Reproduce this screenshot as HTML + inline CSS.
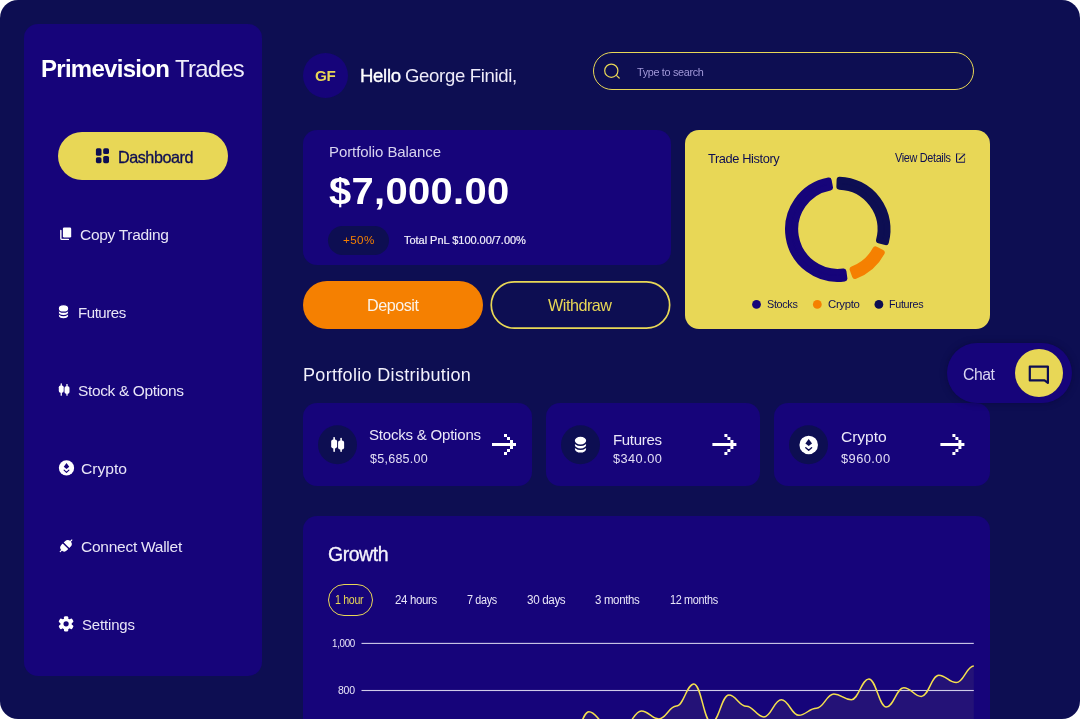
<!DOCTYPE html>
<html lang="en">
<head>
<meta charset="utf-8">
<title>Primevision Trades</title>
<style>
*{box-sizing:border-box;margin:0;padding:0}
html,body{width:1080px;height:719px;overflow:hidden;background:#fff;font-family:"Liberation Sans",sans-serif}
#app{position:absolute;left:0;top:0;width:1080px;height:719px;background:#0d0e52;border-radius:18px;overflow:hidden;will-change:transform}
.abs{position:absolute}
.t{position:absolute;white-space:nowrap;line-height:1;color:#fff;transform-origin:0 0}
.card{position:absolute;background:#16047a;border-radius:14px}
svg{position:absolute;overflow:visible}
</style>
</head>
<body>
<div id="app">

<!-- SIDEBAR -->
<div class="card" id="sidebar" style="left:24px;top:24px;width:238px;height:652px;border-radius:14px"></div>
<span class="t" id="t-prime" style="left:41.15px;top:56.75px;font-size:24px;font-weight:700;letter-spacing:-0.72px;transform:scaleX(0.9994)">Primevision</span>
<span class="t" id="t-trades" style="left:174.93px;top:56.75px;font-size:24px;letter-spacing:-0.72px;transform:scaleX(0.9937);color:#efedfa">Trades</span>

<div class="abs" id="dashbtn" style="left:58px;top:132px;width:170px;height:48px;border-radius:24px;background:#e8d756"></div>
<span class="t" id="t-dash" style="left:118.48px;top:148.75px;font-size:16.5px;color:#0d0e52;letter-spacing:-0.49px;transform:scaleX(0.9819);-webkit-text-stroke:0.3px #0d0e52">Dashboard</span>

<span class="t" id="t-copy" style="left:80.49px;top:226.85px;font-size:15.5px;letter-spacing:-0.32px;transform:scaleX(1.0027);color:#e8e5f7">Copy Trading</span>
<span class="t" id="t-fut" style="left:78.17px;top:304.6px;font-size:15.5px;letter-spacing:-0.46px;transform:scaleX(0.9689);color:#e8e5f7">Futures</span>
<span class="t" id="t-stock" style="left:77.75px;top:382.6px;font-size:15.5px;letter-spacing:-0.35px;transform:scaleX(0.9979);color:#e8e5f7">Stock &amp; Options</span>
<span class="t" id="t-crypto" style="left:81.21px;top:460.85px;font-size:15.5px;letter-spacing:-0.03px;transform:scaleX(1.0112);color:#e8e5f7">Crypto</span>
<span class="t" id="t-wallet" style="left:81.04px;top:538.6px;font-size:15.5px;letter-spacing:-0.27px;transform:scaleX(1.0018);color:#e8e5f7">Connect Wallet</span>
<span class="t" id="t-set" style="left:82.01px;top:616.75px;font-size:15px;letter-spacing:-0.14px;transform:scaleX(0.9956);color:#e8e5f7">Settings</span>

<!-- HEADER -->
<div class="abs" id="avatar" style="left:303px;top:53px;width:45px;height:45px;border-radius:50%;background:#16047a"></div>
<span class="t" id="t-gf" style="left:314.92px;top:67.65px;font-size:15.5px;font-weight:700;color:#e8d756;letter-spacing:-0.46px;transform:scaleX(0.981)">GF</span>
<span class="t" id="t-hello" style="left:359.91px;top:67.05px;font-size:18.5px;letter-spacing:-0.31px;transform:scaleX(1.0039);color:#fff;-webkit-text-stroke:0.35px #fff">Hello</span>
<span class="t" id="t-name" style="left:404.97px;top:67.05px;font-size:18.5px;letter-spacing:-0.32px;transform:scaleX(1.0016);color:#eeebf9">George Finidi,</span>

<div class="abs" id="search" style="left:593px;top:52px;width:381px;height:38px;border-radius:19px;border:1px solid #e8d756"></div>
<span class="t" id="t-search" style="left:636.8px;top:66.5px;font-size:11.5px;color:#a198d9;letter-spacing:-0.34px;transform:scaleX(0.9412)">Type to search</span>

<!-- PORTFOLIO BALANCE -->
<div class="card" id="pbal" style="left:303px;top:130px;width:368px;height:135px"></div>
<span class="t" id="t-pb" style="left:328.67px;top:143.6px;font-size:15px;color:#d8d4ef;letter-spacing:-0.07px;transform:scaleX(0.9986)">Portfolio Balance</span>
<span class="t" id="t-amt" style="left:328.78px;top:173.3px;font-size:37.5px;font-weight:700;letter-spacing:0.3px;transform:scaleX(1.0654)">$7,000.00</span>
<div class="abs" id="pill50" style="left:328px;top:226px;width:61px;height:29px;border-radius:15px;background:#0d0e52"></div>
<span class="t" id="t-50" style="left:343.3px;top:234.95px;font-size:11.5px;color:#f58001;letter-spacing:0.4px;transform:scaleX(1.0104)">+50%</span>
<span class="t" id="t-pnl" style="left:404.14px;top:235.45px;font-size:11px;letter-spacing:-0.04px;transform:scaleX(1.0018);color:#f1effb;-webkit-text-stroke:0.2px #f1effb">Total PnL $100.00/7.00%</span>

<div class="abs" id="dep" style="left:303px;top:281px;width:180px;height:48px;border-radius:24px;background:#f58001"></div>
<span class="t" id="t-dep" style="left:366.96px;top:297.1px;font-size:16.5px;letter-spacing:-0.49px;transform:scaleX(0.9806);color:#fbf3ea">Deposit</span>
<span class="t" id="t-wd" style="left:548.35px;top:297.1px;font-size:16.5px;color:#e8d756;letter-spacing:-0.49px;transform:scaleX(0.9795)">Withdraw</span>

<!-- TRADE HISTORY -->
<div class="abs" id="th" style="left:685px;top:130px;width:305px;height:199px;border-radius:14px;background:#e8d756"></div>
<span class="t" id="t-th" style="left:708.34px;top:152.3px;font-size:13px;color:#0d0e52;letter-spacing:-0.39px;transform:scaleX(0.9846)">Trade History</span>
<span class="t" id="t-vd" style="left:895.01px;top:152.35px;font-size:12px;color:#0d0e52;letter-spacing:-0.36px;transform:scaleX(0.9048)">View Details</span>
<span class="t" id="t-l1" style="left:766.66px;top:299.05px;font-size:11.5px;color:#0d0e52;letter-spacing:-0.34px;transform:scaleX(0.9392)">Stocks</span>
<span class="t" id="t-l2" style="left:827.59px;top:299.05px;font-size:11.5px;color:#0d0e52;letter-spacing:-0.34px;transform:scaleX(0.9908)">Crypto</span>
<span class="t" id="t-l3" style="left:889.19px;top:299.05px;font-size:11.5px;color:#0d0e52;letter-spacing:-0.34px;transform:scaleX(0.936)">Futures</span>

<!-- PORTFOLIO DISTRIBUTION -->
<span class="t" id="t-pd" style="left:302.84px;top:366.2px;font-size:18px;letter-spacing:0.33px;transform:scaleX(0.999);color:#f3f1fc">Portfolio Distribution</span>
<div class="card" id="c1" style="left:303px;top:403px;width:229px;height:83px"></div>
<div class="card" id="c2" style="left:546px;top:403px;width:214px;height:83px"></div>
<div class="card" id="c3" style="left:774px;top:403px;width:216px;height:83px"></div>
<span class="t" id="t-c1a" style="left:369.07px;top:427.2px;font-size:15px;letter-spacing:-0.21px;transform:scaleX(1.0013);color:#ebe8f8">Stocks &amp; Options</span>
<span class="t" id="t-c1b" style="left:369.67px;top:452.8px;font-size:12.5px;letter-spacing:0.25px;transform:scaleX(1.0019);color:#e2def4">$5,685.00</span>
<span class="t" id="t-c2a" style="left:612.51px;top:431.8px;font-size:15px;letter-spacing:-0.34px;transform:scaleX(1.0023);color:#ebe8f8">Futures</span>
<span class="t" id="t-c2b" style="left:613.06px;top:452.8px;font-size:12.5px;letter-spacing:0.44px;transform:scaleX(1.0193);color:#e2def4">$340.00</span>
<span class="t" id="t-c3a" style="left:841.29px;top:428.7px;font-size:15.5px;letter-spacing:-0.09px;transform:scaleX(1.0093);color:#ebe8f8">Crypto</span>
<span class="t" id="t-c3b" style="left:841.11px;top:452.8px;font-size:12.5px;letter-spacing:0.44px;transform:scaleX(1.0262);color:#e2def4">$960.00</span>

<!-- CHAT -->
<div class="abs" id="chat" style="left:947px;top:343.2px;width:125px;height:60.2px;border-radius:31px;background:#16047a;box-shadow:0 0 6px rgba(8,8,50,.55)"></div>
<span class="t" id="t-chat" style="left:963.12px;top:367.3px;font-size:16px;color:#dad6f1;letter-spacing:-0.48px;transform:scaleX(0.9843)">Chat</span>
<div class="abs" id="chatc" style="left:1014.9px;top:349.1px;width:48.3px;height:48.3px;border-radius:50%;background:#e8d756"></div>

<!-- GROWTH -->
<div class="card" id="growth" style="left:303px;top:516px;width:687px;height:230px"></div>
<span class="t" id="t-gr" style="left:328.12px;top:544.75px;font-size:19.5px;letter-spacing:-0.48px;transform:scaleX(1.0004);color:#f6f4fd;-webkit-text-stroke:0.3px #f6f4fd">Growth</span>
<div class="abs" id="tab1" style="left:328px;top:584px;width:45px;height:31.6px;border-radius:16px;border:1px solid #e8d756"></div>
<span class="t" id="t-g1" style="left:334.95px;top:594.2px;font-size:12px;color:#e8d756;letter-spacing:-0.36px;transform:scaleX(0.8841)">1 hour</span>
<span class="t" id="t-g2" style="left:395.04px;top:594.2px;font-size:12px;letter-spacing:-0.36px;transform:scaleX(0.955);color:#e9e6f8">24 hours</span>
<span class="t" id="t-g3" style="left:466.8px;top:594.2px;font-size:12px;letter-spacing:-0.36px;transform:scaleX(0.8999);color:#e9e6f8">7 days</span>
<span class="t" id="t-g4" style="left:526.96px;top:594.2px;font-size:12px;letter-spacing:-0.36px;transform:scaleX(0.9705);color:#e9e6f8">30 days</span>
<span class="t" id="t-g5" style="left:595.48px;top:594.2px;font-size:12px;letter-spacing:-0.36px;transform:scaleX(0.9575);color:#e9e6f8">3 months</span>
<span class="t" id="t-g6" style="left:669.53px;top:594.2px;font-size:12px;letter-spacing:-0.36px;transform:scaleX(0.9051);color:#e9e6f8">12 months</span>
<span class="t" id="t-y1" style="left:332.03px;top:639.2px;font-size:10px;letter-spacing:-0.3px;transform:scaleX(0.9768);color:#e9e6f8">1,000</span>
<span class="t" id="t-y2" style="left:338.12px;top:685.35px;font-size:10.5px;letter-spacing:-0.25px;transform:scaleX(1.0004);color:#e9e6f8">800</span>

<!--GFX-->
<svg id="gfx" style="left:0;top:0" width="1080" height="719" viewBox="0 0 1080 719">
<path d="M536.44 740.30C543.79 740.30 546.59 740.30 553.94 740.30C561.28 740.30 564.08 740.30 571.43 740.30C578.78 740.30 581.58 711.70 588.93 711.70C596.27 711.70 599.07 723.80 606.42 723.80C613.77 723.80 616.57 726.30 623.91 726.30C631.26 726.30 634.06 710.90 641.41 710.90C648.76 710.90 651.56 718.90 658.90 718.90C666.25 718.90 669.05 706.10 676.40 706.10C683.74 706.10 686.54 684.00 693.89 684.00C701.24 684.00 704.04 722.80 711.39 722.80C718.73 722.80 721.53 695.10 728.88 695.10C736.23 695.10 739.03 706.20 746.37 706.20C753.72 706.20 756.52 716.90 763.87 716.90C771.22 716.90 774.02 699.70 781.36 699.70C788.71 699.70 791.51 715.30 798.86 715.30C806.20 715.30 809.00 708.20 816.35 708.20C823.70 708.20 826.50 694.00 833.85 694.00C841.19 694.00 843.99 699.70 851.34 699.70C858.69 699.70 861.49 678.90 868.83 678.90C876.18 678.90 878.98 707.10 886.33 707.10C893.68 707.10 896.48 687.70 903.82 687.70C911.17 687.70 913.97 696.40 921.32 696.40C928.66 696.40 931.46 675.30 938.81 675.30C946.16 675.30 948.96 682.60 956.31 682.60C963.65 682.60 966.45 666.00 973.80 666.00L973.80 760L536.44 760Z" fill="#e8d756" fill-opacity="0.07"/>
<rect x="361.5" y="642.85" width="612.30" height="1.1" fill="#cfcbe9"/>
<rect x="361.5" y="689.95" width="612.30" height="1.1" fill="#cfcbe9"/>
<path d="M536.44 740.30C543.79 740.30 546.59 740.30 553.94 740.30C561.28 740.30 564.08 740.30 571.43 740.30C578.78 740.30 581.58 711.70 588.93 711.70C596.27 711.70 599.07 723.80 606.42 723.80C613.77 723.80 616.57 726.30 623.91 726.30C631.26 726.30 634.06 710.90 641.41 710.90C648.76 710.90 651.56 718.90 658.90 718.90C666.25 718.90 669.05 706.10 676.40 706.10C683.74 706.10 686.54 684.00 693.89 684.00C701.24 684.00 704.04 722.80 711.39 722.80C718.73 722.80 721.53 695.10 728.88 695.10C736.23 695.10 739.03 706.20 746.37 706.20C753.72 706.20 756.52 716.90 763.87 716.90C771.22 716.90 774.02 699.70 781.36 699.70C788.71 699.70 791.51 715.30 798.86 715.30C806.20 715.30 809.00 708.20 816.35 708.20C823.70 708.20 826.50 694.00 833.85 694.00C841.19 694.00 843.99 699.70 851.34 699.70C858.69 699.70 861.49 678.90 868.83 678.90C876.18 678.90 878.98 707.10 886.33 707.10C893.68 707.10 896.48 687.70 903.82 687.70C911.17 687.70 913.97 696.40 921.32 696.40C928.66 696.40 931.46 675.30 938.81 675.30C946.16 675.30 948.96 682.60 956.31 682.60C963.65 682.60 966.45 666.00 973.80 666.00" fill="none" stroke="#f4e04e" stroke-width="1.5"/>
<rect x="491.25" y="281.85" width="178.4" height="46.3" rx="23.15" fill="none" stroke="#e8d756" stroke-width="1.7"/>
<g fill="#0d0e52"><rect x="95.9" y="148.3" width="5.6" height="7.5" rx="1.6"/><rect x="103.2" y="148.3" width="5.8" height="5.7" rx="1.6"/><rect x="95.9" y="157.3" width="5.6" height="5.9" rx="1.6"/><rect x="103.2" y="156" width="5.8" height="7.2" rx="1.6"/></g>
<g><rect x="62.9" y="227.5" width="8.3" height="10" rx="1.3" fill="#fff"/><path d="M60.85 230.4V238.4a1 1 0 0 0 1 1H68.4" fill="none" stroke="#fff" stroke-width="1.4" stroke-linecap="round"/></g>
<g transform="translate(63.5,308.4) scale(1)" fill="#fff" stroke="#16047a" stroke-width="1.25"><ellipse cx="0" cy="6.7" rx="5.3" ry="3.85"/><ellipse cx="0" cy="3.35" rx="5.3" ry="3.85"/><ellipse cx="0" cy="0.0" rx="5.3" ry="3.85"/></g>
<g fill="#fff" transform="translate(64.15,389.55) scale(1)"><rect x="-5.35" y="-4.05" width="4.9" height="7.3" rx="1.7"/><rect x="-3.55" y="-6.25" width="1.3" height="12.5" rx="0.6"/><rect x="0.35" y="-3.25" width="5" height="7.4" rx="1.7"/><rect x="2.2" y="-5.55" width="1.3" height="11.8" rx="0.6"/></g>
<g transform="translate(66.5,467.9) scale(1)"><circle r="7.65" fill="#fff"/><path d="M0 -4.9L2.75 -1.1L0 1.0L-2.75 -1.1Z" fill="#16047a"/><path d="M-2.4 2.3L0 4.5L2.4 2.3" fill="none" stroke="#16047a" stroke-width="1.15" stroke-linecap="round" stroke-linejoin="round"/></g>
<g transform="translate(66,545.8) rotate(-45)"><rect x="-6.4" y="-3.9" width="12.8" height="7.8" rx="3.9" fill="#fff"/><rect x="-0.75" y="-5" width="1.5" height="10" fill="#16047a"/><path d="M-8.2 0H-6M6 0H8.2" stroke="#fff" stroke-width="1.1" stroke-linecap="round"/></g>
<g transform="translate(66.1,623.85)" fill="#fff"><circle r="5.7"/><rect x="-2.1" y="-7.7" width="4.2" height="4" rx="1.2" transform="rotate(0)"/><rect x="-2.1" y="-7.7" width="4.2" height="4" rx="1.2" transform="rotate(60)"/><rect x="-2.1" y="-7.7" width="4.2" height="4" rx="1.2" transform="rotate(120)"/><rect x="-2.1" y="-7.7" width="4.2" height="4" rx="1.2" transform="rotate(180)"/><rect x="-2.1" y="-7.7" width="4.2" height="4" rx="1.2" transform="rotate(240)"/><rect x="-2.1" y="-7.7" width="4.2" height="4" rx="1.2" transform="rotate(300)"/><circle r="2.6" fill="#16047a"/></g>
<g fill="none" stroke="#e8d756" stroke-width="1.2" stroke-linecap="round"><circle cx="611.3" cy="70.7" r="6.6"/><path d="M616.6 75.6L619.2 78"/></g>
<g fill="none" stroke="#0d0e52" stroke-width="1.1" stroke-linejoin="round"><path d="M956.55 153.6V161.5a0.7 0.7 0 0 0 .7 .7H964.9"/><path d="M959.3 159.5L964.7 154.1" stroke-linecap="round"/><path d="M957 153.75H960.4" stroke-opacity="0.5"/><path d="M961.2 153.75H963.8" stroke-opacity="0.3"/><path d="M964.55 157.8V162" stroke-opacity="0.6"/><path d="M964.55 154.6V156.6" stroke-opacity="0.3"/></g>
<path d="M839.62 179.63A49.7 49.7 0 0 1 885.86 242.13L879.01 240.30A42.6 42.6 0 0 0 839.36 186.73Z" fill="#0d0e52" stroke="#0d0e52" stroke-width="6.0" stroke-linejoin="round"/>
<path d="M881.72 252.66A49.7 49.7 0 0 1 855.04 275.93L852.59 269.27A42.6 42.6 0 0 0 875.45 249.32Z" fill="#f58001" stroke="#f58001" stroke-width="6.0" stroke-linejoin="round"/>
<path d="M844.39 278.57A49.7 49.7 0 0 1 828.68 180.45L829.99 187.43A42.6 42.6 0 0 0 843.46 271.53Z" fill="#16047a" stroke="#16047a" stroke-width="6.0" stroke-linejoin="round"/>
<circle cx="756.5" cy="304.4" r="4.4" fill="#16047a"/><circle cx="817.3" cy="304.4" r="4.4" fill="#f58001"/><circle cx="878.9" cy="304.4" r="4.4" fill="#0d0e52"/>
<circle cx="337.5" cy="444.7" r="19.5" fill="#0d0e52"/>
<circle cx="580.5" cy="444.7" r="19.5" fill="#0d0e52"/>
<circle cx="808.5" cy="444.7" r="19.5" fill="#0d0e52"/>
<g fill="#fff" transform="translate(337.65,444.45) scale(1.21)"><rect x="-5.35" y="-4.05" width="4.9" height="7.3" rx="1.7"/><rect x="-3.55" y="-6.25" width="1.3" height="12.5" rx="0.6"/><rect x="0.35" y="-3.25" width="5" height="7.4" rx="1.7"/><rect x="2.2" y="-5.55" width="1.3" height="11.8" rx="0.6"/></g>
<g transform="translate(580.5,440.6) scale(1.21)" fill="#fff" stroke="#0d0e52" stroke-width="1.25"><ellipse cx="0" cy="6.7" rx="5.3" ry="3.85"/><ellipse cx="0" cy="3.35" rx="5.3" ry="3.85"/><ellipse cx="0" cy="0.0" rx="5.3" ry="3.85"/></g>
<g transform="translate(808.7,444.9) scale(1.21)"><circle r="7.65" fill="#fff"/><path d="M0 -4.9L2.75 -1.1L0 1.0L-2.75 -1.1Z" fill="#0d0e52"/><path d="M-2.4 2.3L0 4.5L2.4 2.3" fill="none" stroke="#0d0e52" stroke-width="1.15" stroke-linecap="round" stroke-linejoin="round"/></g>
<g fill="#fff" transform="translate(492,434)"><rect x="0" y="9" width="24" height="3"/><rect x="18" y="6" width="3" height="9"/><rect x="15" y="3" width="3" height="3"/><rect x="12" y="0" width="3" height="3"/><rect x="15" y="15" width="3" height="3"/><rect x="12" y="18" width="3" height="3"/></g>
<g fill="#fff" transform="translate(712.4,434)"><rect x="0" y="9" width="24" height="3"/><rect x="18" y="6" width="3" height="9"/><rect x="15" y="3" width="3" height="3"/><rect x="12" y="0" width="3" height="3"/><rect x="15" y="15" width="3" height="3"/><rect x="12" y="18" width="3" height="3"/></g>
<g fill="#fff" transform="translate(940.4,434)"><rect x="0" y="9" width="24" height="3"/><rect x="18" y="6" width="3" height="9"/><rect x="15" y="3" width="3" height="3"/><rect x="12" y="0" width="3" height="3"/><rect x="15" y="15" width="3" height="3"/><rect x="12" y="18" width="3" height="3"/></g>
<path d="M1029.8 366.6H1047.9V383L1044.6 380.4H1029.8Z" fill="none" stroke="#0d0e52" stroke-width="2.2" stroke-linejoin="round"/>
</svg>
<!--/GFX-->
</div>
</body>
</html>
